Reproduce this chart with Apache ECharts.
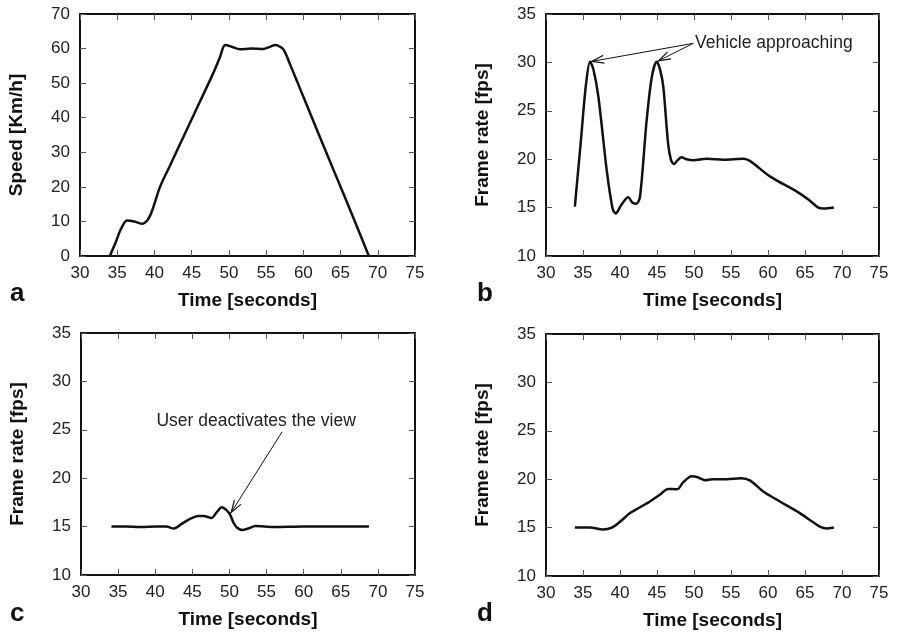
<!DOCTYPE html>
<html><head><meta charset="utf-8">
<script src="https://cdn.jsdelivr.net/npm/echarts@6/dist/echarts.min.js"></script>
<style>html,body{margin:0;padding:0;background:#fff}#c{width:897px;height:632px}</style>
</head><body><div id="c"></div>
<script>
// ---- data ----
const xTickValues = [30, 35, 40, 45, 50, 55, 60, 65, 70, 75];
const speedTicks = [0, 10, 20, 30, 40, 50, 60, 70];
const fpsTicks = [10, 15, 20, 25, 30, 35];
const panelLetters = ['a', 'b', 'c', 'd'];
const xTitle = 'Time [seconds]';
const yTitles = ['Speed [Km/h]', 'Frame rate [fps]', 'Frame rate [fps]', 'Frame rate [fps]'];

const timeA  = [34.0, 34.8, 35.5, 36.3, 37.3, 38.4, 39.4, 40.75, 42.1, 43.9, 46.1, 47.9, 48.8, 49.5, 50.3, 51.5, 53.0, 54.6, 55.5, 56.2, 57.3, 58.2, 59.2, 62.0, 64.5, 66.5, 68.8];
const speedA = [0, 4.0, 7.8, 10.3, 10.0, 9.3, 11.6, 20.0, 26.2, 34.5, 44.6, 52.9, 57.5, 61.0, 60.6, 59.8, 60.0, 59.9, 60.5, 61.0, 59.8, 55.5, 50.3, 35.6, 22.6, 12.2, 0];

const timeB = [33.9, 34.7, 35.4, 35.95, 36.4, 37.07, 38.2, 39.0, 39.4, 40.2, 41.1, 41.7, 42.2, 42.7, 43.6, 44.3, 44.96, 45.4, 45.85, 46.5, 46.9, 47.3, 47.8, 48.3, 49.0, 49.9, 51.7, 54.0, 56.7, 57.6, 60.3, 63.9, 65.5, 66.8, 67.5, 68.9];
const fpsB  = [15.1, 21.8, 27.7, 30.07, 29.3, 26.5, 18.9, 14.9, 14.4, 15.3, 16.06, 15.5, 15.4, 16.1, 24.0, 28.5, 30.07, 29.3, 27.5, 21.6, 19.9, 19.5, 19.9, 20.2, 20.0, 19.9, 20.05, 19.95, 20.05, 19.8, 18.2, 16.65, 15.8, 15.0, 14.9, 15.0];

const timeC = [34.1, 36.0, 38.0, 40.2, 41.5, 42.5, 43.6, 44.7, 45.8, 46.5, 47.6, 48.3, 48.96, 49.6, 50.1, 50.55, 51.0, 51.7, 52.5, 53.5, 55.9, 60.0, 65.0, 68.8];
const fpsC  = [15.0, 15.0, 14.95, 15.0, 15.0, 14.8, 15.3, 15.8, 16.1, 16.1, 15.9, 16.5, 17.0, 16.7, 16.2, 15.4, 14.9, 14.65, 14.8, 15.05, 14.95, 15.0, 15.0, 15.0];

const timeD = [33.9, 35.95, 37.7, 38.9, 40.0, 41.35, 42.7, 44.05, 45.4, 46.5, 47.7, 48.56, 49.7, 50.5, 51.5, 52.5, 54.4, 56.4, 57.6, 59.4, 61.6, 64.3, 66.0, 67.0, 67.9, 68.9];
const fpsD  = [15.0, 15.0, 14.8, 15.0, 15.6, 16.5, 17.1, 17.7, 18.4, 19.0, 18.96, 19.7, 20.3, 20.2, 19.9, 20.0, 20.0, 20.1, 19.85, 18.7, 17.7, 16.5, 15.6, 15.1, 14.9, 15.0];

// annotations (data coordinates)
const noteB = 'Vehicle approaching';
const noteBAnchor = [50.14, 31.95];
const arrowBStart = [49.9, 31.97];
const arrowBEnds = [[35.95, 30.07], [44.96, 30.07]];
const noteC = 'User deactivates the view';
const noteCAnchor = [53.6, 25.85];
const arrowCStart = [57.1, 24.8];
const arrowCEnd = [50.1, 16.3];

// ---- chart ----
const FONT = 'Liberation Sans, Arial, Helvetica, sans-serif';
const grids = [
  {left: 80, top: 14, width: 335, height: 242},
  {left: 546, top: 14, width: 333, height: 242},
  {left: 81, top: 333, width: 334, height: 242},
  {left: 546, top: 334, width: 333, height: 242}
];
const yRanges = [
  {min: speedTicks[0], max: speedTicks[speedTicks.length-1], interval: speedTicks[1]-speedTicks[0]},
  {min: fpsTicks[0], max: fpsTicks[fpsTicks.length-1], interval: fpsTicks[1]-fpsTicks[0]},
  {min: fpsTicks[0], max: fpsTicks[fpsTicks.length-1], interval: fpsTicks[1]-fpsTicks[0]},
  {min: fpsTicks[0], max: fpsTicks[fpsTicks.length-1], interval: fpsTicks[1]-fpsTicks[0]}
];
const xRange = {min: xTickValues[0], max: xTickValues[xTickValues.length-1], interval: xTickValues[1]-xTickValues[0]};

const axisLine = {show: true, onZero: false, lineStyle: {color: '#111', width: 2}};
const axisTick = {show: true, inside: true, length: 6, lineStyle: {color: '#555', width: 1}};
const xAxes = [], yAxes = [];
grids.forEach((g, i) => {
  xAxes.push({type: 'value', gridIndex: i, position: 'bottom', ...xRange,
    axisLine, axisTick, splitLine: {show: false},
    axisLabel: {color: '#222', fontSize: 17, fontFamily: FONT, margin: 9},
    name: xTitle, nameLocation: 'middle', nameGap: 35,
    nameTextStyle: {color: '#111', fontSize: 19, fontWeight: 'bold', fontFamily: FONT}});
  xAxes.push({type: 'value', gridIndex: i, position: 'top', ...xRange,
    axisLine, axisTick, splitLine: {show: false}, axisLabel: {show: false}});
  yAxes.push({type: 'value', gridIndex: i, position: 'left', ...yRanges[i],
    axisLine, axisTick, splitLine: {show: false},
    axisLabel: {color: '#222', fontSize: 17, fontFamily: FONT, margin: 10},
    name: yTitles[i], nameLocation: 'middle', nameGap: 54,
    nameTextStyle: {color: '#111', fontSize: 19, fontWeight: 'bold', fontFamily: FONT}});
  yAxes.push({type: 'value', gridIndex: i, position: 'right', ...yRanges[i],
    axisLine, axisTick, splitLine: {show: false}, axisLabel: {show: false}});
});

const zip = (xs, ys) => xs.map((x, k) => [x, ys[k]]);
const chevron = 'path://M5,0 L5.01,0 Z M0,20 L5,10 L10,20 L8.6,20 L5,12.8 L1.4,20 Z';
const arrowLine = {color: '#111', width: 1, type: 'solid'};
const seriesList = [[timeA, speedA], [timeB, fpsB], [timeC, fpsC], [timeD, fpsD]].map((d, i) => ({
  type: 'line', xAxisIndex: 2*i, yAxisIndex: 2*i, data: zip(d[0], d[1]),
  showSymbol: false, smooth: 0.3, clip: true, silent: true,
  lineStyle: {color: '#111', width: 2.5}
}));

seriesList[1].markLine = {
  silent: true, symbol: ['none', chevron], symbolSize: [9, 28],
  lineStyle: arrowLine, label: {show: false},
  data: arrowBEnds.map(e => [{coord: arrowBStart}, {coord: e}])
};
seriesList[1].markPoint = {
  silent: true, symbol: 'circle', symbolSize: 0,
  data: [{coord: noteBAnchor, label: {show: true, position: 'right', distance: 0, formatter: noteB,
    color: '#222', fontSize: 17.5, fontFamily: FONT}}]
};
seriesList[2].markLine = {
  silent: true, symbol: ['none', chevron], symbolSize: [9, 28],
  lineStyle: arrowLine, label: {show: false},
  data: [[{coord: arrowCStart}, {coord: arrowCEnd}]]
};
seriesList[2].markPoint = {
  silent: true, symbol: 'circle', symbolSize: 0,
  data: [{coord: noteCAnchor, label: {show: true, position: 'inside', formatter: noteC,
    color: '#222', fontSize: 17.5, fontFamily: FONT}}]
};

const letterPos = [[10, 295], [477, 295], [10, 615], [477, 615]];
const chart = echarts.init(document.getElementById('c'), null, {renderer: 'canvas'});
chart.setOption({
  animation: false,
  backgroundColor: '#fff',
  grid: grids,
  xAxis: xAxes,
  yAxis: yAxes,
  series: seriesList,
  graphic: panelLetters.map((t, i) => ({
    type: 'text', left: letterPos[i][0], top: letterPos[i][1] - 14,
    style: {text: t, fill: '#111', font: 'bold 26px ' + FONT}
  }))
});
</script></body></html>
